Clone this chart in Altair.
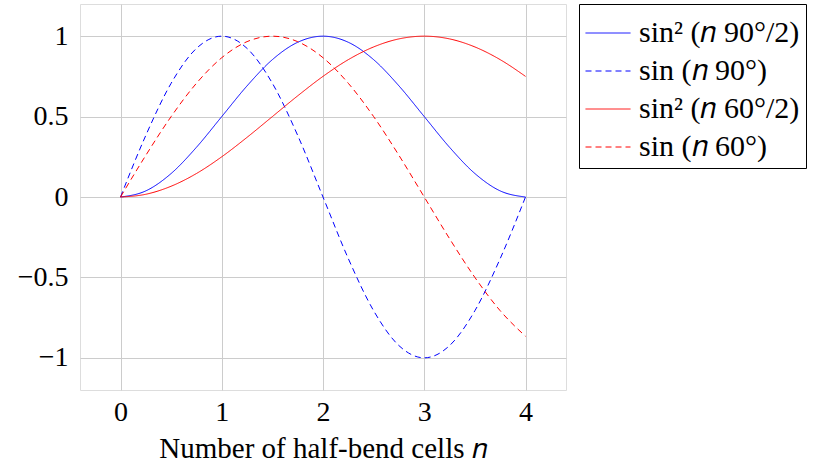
import altair as alt
import pandas as pd

n_vals = [0, 0.25, 0.5, 0.75, 1, 1.25, 1.5, 1.75, 2, 2.25, 2.5, 2.75, 3, 3.25, 3.5, 3.75, 4]

sin2_90 = [0, 0.038, 0.146, 0.309, 0.5, 0.691, 0.854, 0.962, 1, 0.962, 0.854, 0.691, 0.5, 0.309, 0.146, 0.038, 0]
sin_90 = [0, 0.383, 0.707, 0.924, 1, 0.924, 0.707, 0.383, 0, -0.383, -0.707, -0.924, -1, -0.924, -0.707, -0.383, 0]
sin2_60 = [0, 0.017, 0.067, 0.146, 0.25, 0.371, 0.5, 0.629, 0.75, 0.854, 0.933, 0.983, 1, 0.983, 0.933, 0.854, 0.75]
sin_60 = [0, 0.259, 0.5, 0.707, 0.866, 0.966, 1, 0.966, 0.866, 0.707, 0.5, 0.259, 0, -0.259, -0.5, -0.707, -0.866]

series_names = [
    "sin² (𝑛 90°/2)",
    "sin (𝑛 90°)",
    "sin² (𝑛 60°/2)",
    "sin (𝑛 60°)",
]
series_values = [sin2_90, sin_90, sin2_60, sin_60]
series_colors = ["#0000ff", "#0000ff", "#ff0000", "#ff0000"]
series_dashes = [[1, 0], [6, 4], [1, 0], [6, 4]]

x_ticks = [0, 1, 2, 3, 4]
y_ticks = [-1, -0.5, 0, 0.5, 1]

rows = []
for name, vals in zip(series_names, series_values):
    for n, v in zip(n_vals, vals):
        rows.append({"n": n, "value": v, "series": name})
df = pd.DataFrame(rows)

FONT = "Liberation Serif"

chart = alt.Chart(df).mark_line(strokeWidth=1, interpolate="monotone", clip=True).encode(
    x=alt.X("n:Q",
            scale=alt.Scale(domain=[-0.4, 4.4], nice=False, zero=False),
            axis=alt.Axis(values=x_ticks, format="d", title="Number of half-bend cells 𝑛",
                          grid=True, gridColor="#cccccc", domain=False, ticks=False,
                          labelFont=FONT, labelFontSize=28, labelColor="black", labelPadding=8,
                          titleFont=FONT, titleFontSize=29, titleFontWeight="normal",
                          titleColor="black", titlePadding=8)),
    y=alt.Y("value:Q",
            scale=alt.Scale(domain=[-1.2, 1.2], nice=False, zero=False),
            axis=alt.Axis(values=y_ticks, format="~g", title=None,
                          grid=True, gridColor="#cccccc", domain=False, ticks=False,
                          labelFont=FONT, labelFontSize=28, labelColor="black", labelPadding=12)),
    color=alt.Color("series:N",
                    scale=alt.Scale(domain=series_names, range=series_colors),
                    sort=series_names,
                    legend=alt.Legend(title=None, orient="none", legendX=499, legendY=0,
                                      symbolType="stroke", symbolSize=2025, symbolStrokeWidth=1,
                                      labelFont=FONT, labelFontSize=30, labelColor="black",
                                      strokeColor="black", fillColor="white", padding=6,
                                      rowPadding=0, labelOffset=8, labelLimit=400)),
    strokeDash=alt.StrokeDash("series:N",
                              scale=alt.Scale(domain=series_names, range=series_dashes),
                              sort=series_names, legend=None),
    detail="series:N",
).properties(
    width=486,
    height=386,
    autosize=alt.AutoSizeParams(type="none"),
    padding={"left": 80, "top": 4, "right": 248, "bottom": 76},
).configure_view(
    stroke="black", strokeWidth=1
).configure(background="white")

chart.save("out.html", embed_options={"renderer": "svg", "actions": False})
